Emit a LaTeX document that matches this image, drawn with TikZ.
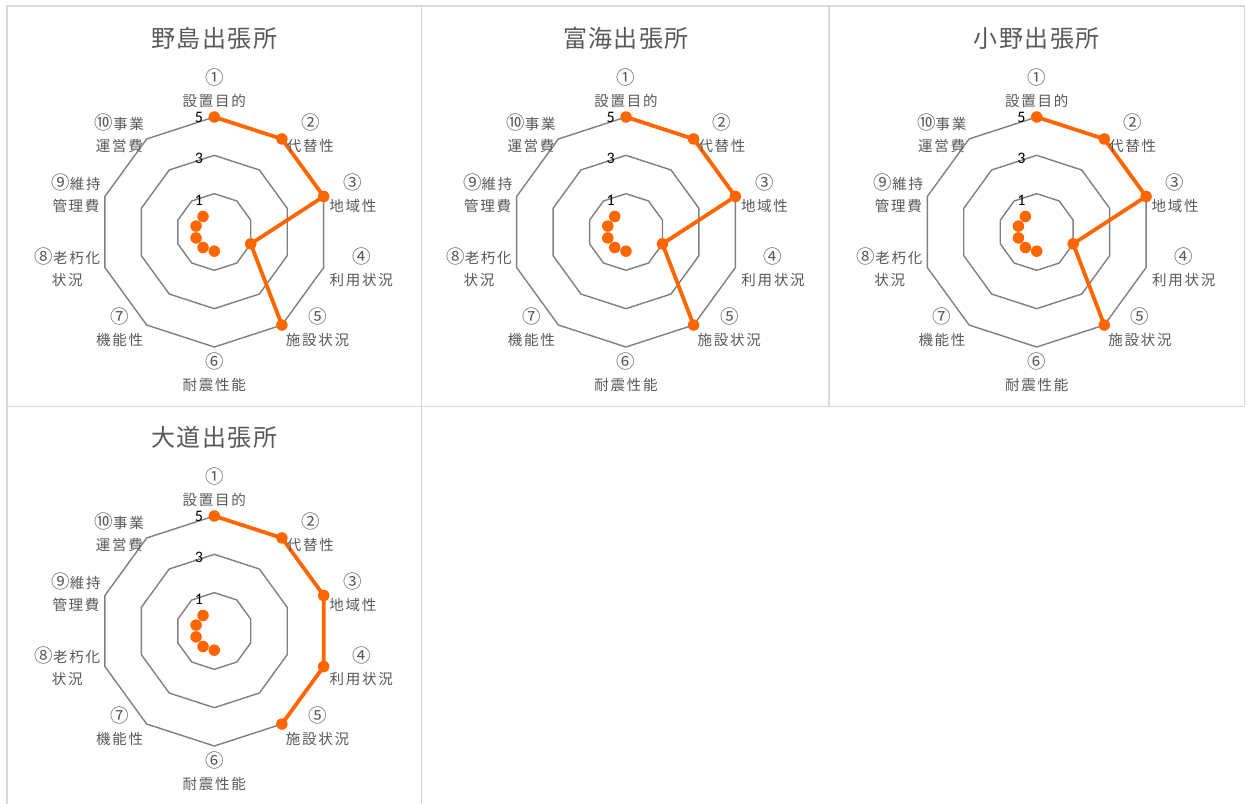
\documentclass[tikz,border=0pt]{standalone}
\usepackage{fontspec}
\newfontfamily\jplabel[LetterSpace=12]{Noto Sans CJK JP}
\newfontfamily\jptitle[LetterSpace=6]{Noto Sans CJK JP}
\newfontfamily\numfont{Carlito}
\definecolor{panelgray}{HTML}{D9D9D9}
\definecolor{gridgray}{HTML}{808080}
\definecolor{labelgray}{HTML}{595959}
\definecolor{dataorange}{HTML}{FF6600}
\newcommand\cnum[1]{{\fontsize{18.5}{21.7}\selectfont #1}}

\newcommand\radarchart[5]{%
  % #1 name, #2 cx, #3 cy, #4 title, #5 values
  \node[charttitle] (#1-title) at (#2,#3-194) {#4};
  \foreach \vv in {1,3,5} {
    \pgfmathsetmacro\rr{(\vv+1)*115/6}
    \draw[gridring] ({#2},{#3-\rr}) \foreach \k in {1,...,9} { -- ({#2+\rr*sin(36*\k)},{#3-\rr*cos(36*\k)}) } -- cycle;
  }
  \node[ringlabel] (#1-r5) at (#2-11,#3-114.5) {5};
  \node[ringlabel] (#1-r3) at (#2-11,#3-73.3) {3};
  \node[ringlabel] (#1-r1) at (#2-11,#3-32) {1};
  \foreach \val [count=\k from 1] in {#5} {
    \pgfmathsetmacro\rr{(\val+1)*115/6}
    \coordinate (#1-p\k) at ({#2+\rr*sin(36*(\k-1))},{#3-\rr*cos(36*(\k-1))});
  }
  \draw[series] (#1-p1) -- (#1-p2) -- (#1-p3) -- (#1-p4) -- (#1-p5);
  \foreach \k in {1,...,10} { \node[datadot] (#1-d\k) at (#1-p\k) {}; }
  \node[axlabel] (#1-l1) at (#2,#3-144) {\cnum{①}\\設置目的};
  \node[axlabel] (#1-l2) at (#2+96,#3-98.5) {\cnum{②}\\代替性};
  \node[axlabel] (#1-l3) at (#2+138.5,#3-39) {\cnum{③}\\地域性};
  \node[axlabel] (#1-l4) at (#2+147,#3+35.5) {\cnum{④}\\利用状況};
  \node[axlabel] (#1-l5) at (#2+103.3,#3+95) {\cnum{⑤}\\施設状況};
  \node[axlabel] (#1-l6) at (#2,#3+140.5) {\cnum{⑥}\\耐震性能};
  \node[axlabel] (#1-l7) at (#2-94.7,#3+95) {\cnum{⑦}\\機能性};
  \node[axlabel] (#1-l8) at (#2-147,#3+35.5) {\cnum{⑧}老朽化\\状況};
  \node[axlabel] (#1-l9) at (#2-138.3,#3-39) {\cnum{⑨}維持\\管理費};
  \node[axlabel] (#1-l10) at (#2-95,#3-98.5) {\cnum{⑩}事業\\運営費};
}

\begin{document}
\begin{tikzpicture}[x=1pt,y=-1pt,
  panel/.style={draw=panelgray, line width=1.2pt},
  gridring/.style={draw=gridgray, line width=1.4pt, line join=miter},
  series/.style={draw=dataorange, line width=3.8pt, line join=round},
  datadot/.style={circle, fill=dataorange, inner sep=0pt, minimum size=11.5pt},
  axlabel/.style={font=\jplabel\fontsize{14.5}{21.7}\selectfont, text=labelgray, align=center, inner sep=0pt},
  charttitle/.style={font=\jptitle\fontsize{24}{28}\selectfont, text=labelgray, inner sep=0pt},
  ringlabel/.style={font=\numfont\fontsize{16}{18}\selectfont, text=black, inner sep=0pt, anchor=east}]
\useasboundingbox (0,0) rectangle (1250,803);
\fill[white] (0,0) rectangle (1250,803);
\draw[panel] (7,6) rectangle (421.5,406.5);
\draw[panel] (421.5,6) rectangle (829,406.5);
\draw[panel] (829,6) rectangle (1244.5,406.5);
\draw[panel] (7,806) -- (7,406.5) -- (421.5,406.5) -- (421.5,806);
\radarchart{nojima}{214.3}{232}{野島出張所}{5,5,5,1,5,0,0,0,0,0}
\radarchart{tomiumi}{626}{232}{富海出張所}{5,5,5,1,5,0,0,0,0,0}
\radarchart{ono}{1036.7}{232}{小野出張所}{5,5,5,1,5,0,0,0,0,0}
\radarchart{daido}{214.3}{631}{大道出張所}{5,5,5,5,5,0,0,0,0,0}
\end{tikzpicture}
\end{document}
